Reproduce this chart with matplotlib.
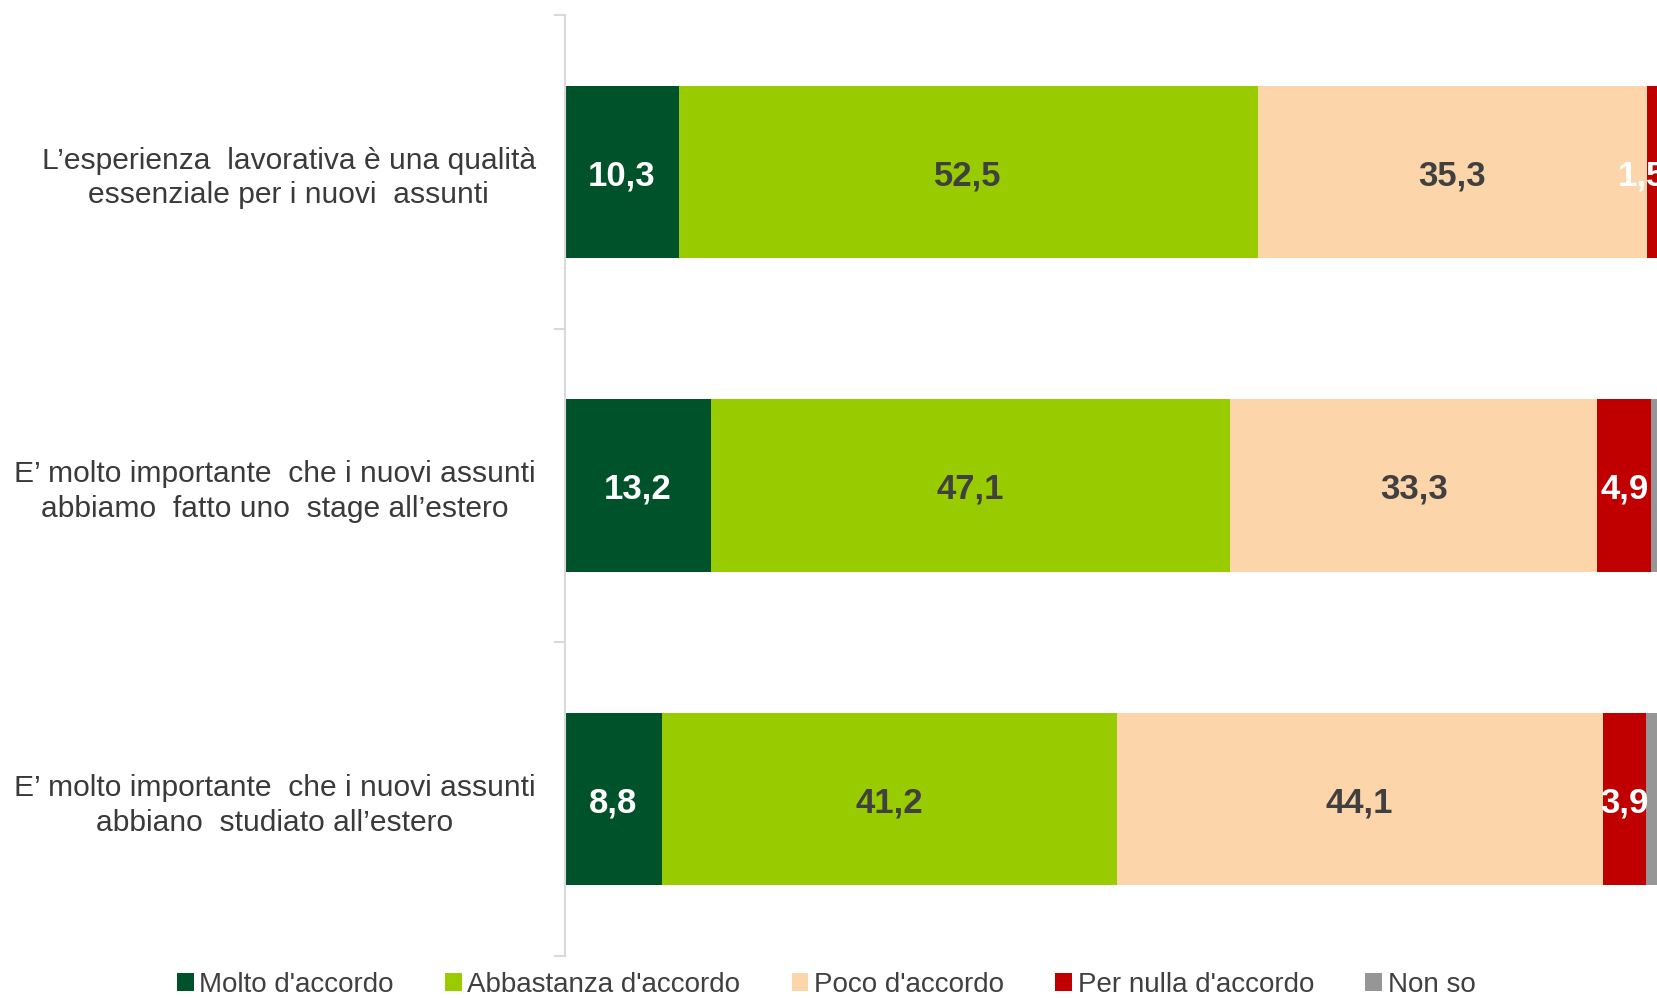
import numpy as np
import matplotlib.pyplot as plt
from matplotlib.patches import Patch

plt.rcParams['font.family'] = ['Liberation Sans', 'DejaVu Sans']

# survey statements and answer shares (%)
statements = [
    "L\u2019esperienza  lavorativa è una qualità\nessenziale per i nuovi  assunti",
    "E\u2019 molto importante  che i nuovi assunti\nabbiamo  fatto uno  stage all\u2019estero",
    "E\u2019 molto importante  che i nuovi assunti\nabbiano  studiato all\u2019estero",
]
answers = ["Molto d'accordo", "Abbastanza d'accordo", "Poco d'accordo",
           "Per nulla d'accordo", "Non so"]
molto = [10.3, 13.2, 8.8]
abbastanza = [52.5, 47.1, 41.2]
poco = [35.3, 33.3, 44.1]
per_nulla = [1.5, 4.9, 3.9]
non_so = [0.4, 1.5, 2.0]

series = [molto, abbastanza, poco, per_nulla, non_so]
colors = ['#00522a', '#99cc00', '#fdd5aa', '#c00000', '#969696']
label_colors = ['white', '#404040', '#404040', 'white', None]

fig = plt.figure(figsize=(16.57, 9.98), dpi=100)
# the plot area runs slightly past the right edge of the figure
ax = fig.add_axes([565 / 1657, 42 / 998, 1103 / 1657, 941 / 998])

y = np.arange(len(statements))
left = np.zeros(len(statements))
for vals, col, tcol in zip(series, colors, label_colors):
    vals = np.array(vals)
    ax.barh(y, vals, left=left, height=0.55, color=col, edgecolor='none')
    if tcol is not None:
        for yi, (l, v) in enumerate(zip(left, vals)):
            # keep labels of thin end segments from sliding off the figure
            xpos = min(l + v / 2, 97.6)
            ax.text(xpos, yi + 0.012, f"{v:.1f}".replace('.', ','),
                    ha='center', va='center', fontsize=25, fontweight='bold',
                    color=tcol)
    left += vals

ax.set_xlim(0, 100)
ax.set_ylim(len(statements) - 0.5, -0.5)

ax.set_yticks(y)
ax.set_yticklabels(statements, fontsize=21.6, color='#3a3a3a',
                   multialignment='center', linespacing=1.3)
ax.tick_params(axis='y', which='major', length=0, pad=21)
ax.set_yticks(np.arange(-0.5, len(statements)), minor=True)
ax.tick_params(axis='y', which='minor', length=8, width=1.5, color='#d9d9d9')

ax.set_xticks([])
for side in ['top', 'right', 'bottom']:
    ax.spines[side].set_visible(False)
ax.spines['left'].set_color('#d9d9d9')
ax.spines['left'].set_linewidth(1.5)

handles = [Patch(facecolor=c, edgecolor='none') for c in colors]
fig.legend(handles, answers, loc='center', bbox_to_anchor=(0.4986, 0.013),
           ncol=5, frameon=False, fontsize=20, handlelength=0.6,
           handleheight=0.6, handletextpad=0.2, columnspacing=1.85,
           labelcolor='#404040')

fig.savefig('out.png', dpi=100)
